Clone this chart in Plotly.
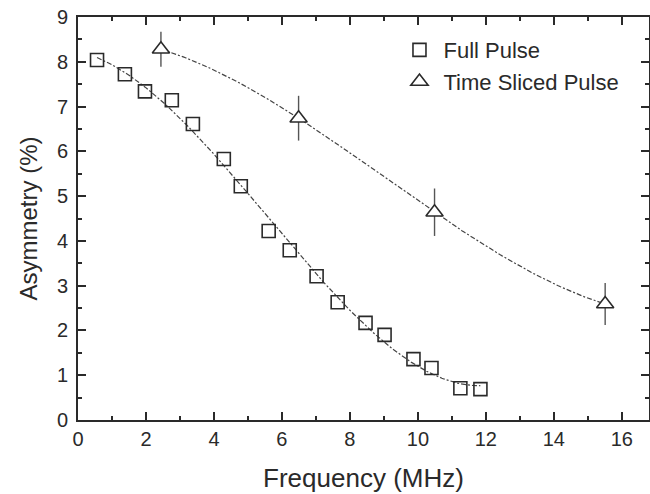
import numpy as np
import plotly.graph_objects as go

# Full pulse data
full_freq = [0.56, 1.38, 1.97, 2.76, 3.38, 4.29, 4.79, 5.61, 6.23, 7.02, 7.64, 8.46, 9.02, 9.87, 10.40, 11.25, 11.84]
full_asym = [8.04, 7.72, 7.34, 7.14, 6.61, 5.83, 5.22, 4.22, 3.79, 3.21, 2.63, 2.17, 1.90, 1.36, 1.16, 0.71, 0.69]

# Time sliced pulse data
ts_freq = [2.44, 6.49, 10.49, 15.51]
ts_asym = [8.28, 6.74, 4.64, 2.59]
ts_err = [0.39, 0.50, 0.53, 0.47]

x_ticks = [0, 2, 4, 6, 8, 10, 12, 14, 16]
y_ticks = [0, 1, 2, 3, 4, 5, 6, 7, 8, 9]

FONT = "Liberation Sans, Arial, sans-serif"
INK = "#2a2a2a"

# Smooth fits derived from the data
pf = np.polyfit(full_freq, full_asym, 3)
xf = np.linspace(min(full_freq), max(full_freq), 200)
yf = np.polyval(pf, xf)

pt = np.polyfit(ts_freq, ts_asym, 3)
xt = np.linspace(min(ts_freq), max(ts_freq), 200)
yt = np.polyval(pt, xt)

fig = go.Figure()

fig.add_trace(go.Scatter(x=xf, y=yf, mode="lines", showlegend=False, hoverinfo="skip",
                         line=dict(color="#444444", width=1.2, dash="5px,2px,2px,2px")))
fig.add_trace(go.Scatter(x=xt, y=yt, mode="lines", showlegend=False, hoverinfo="skip",
                         line=dict(color="#444444", width=1.2, dash="5px,2px,2px,2px")))

fig.add_trace(go.Scatter(x=full_freq, y=full_asym, mode="markers", name="Full Pulse",
                         marker=dict(symbol="square-open", size=13, color=INK,
                                     line=dict(width=1.6, color=INK))))
fig.add_trace(go.Scatter(x=ts_freq, y=ts_asym, mode="markers", name="Time Sliced Pulse",
                         error_y=dict(type="data", array=ts_err, visible=True, width=0,
                                      thickness=1.4, color="#555555"),
                         marker=dict(symbol="triangle-up", size=15, color="white",
                                     line=dict(width=1.6, color=INK))))

axis_common = dict(
    showline=True, linewidth=2, linecolor=INK, mirror="ticks",
    ticks="inside", ticklen=8, tickwidth=2, tickcolor=INK,
    showgrid=False, zeroline=False, automargin=False,
    tickfont=dict(family=FONT, size=20, color=INK),
)

fig.update_xaxes(range=[0, 16.8], tickvals=x_ticks,
                 minor=dict(dtick=1, ticks="inside", ticklen=4, tickwidth=2, tickcolor=INK, showgrid=False),
                 title=dict(text="Frequency (MHz)", font=dict(family=FONT, size=26, color=INK), standoff=20),
                 **axis_common)
fig.update_yaxes(range=[0, 9], tickvals=y_ticks, ticklabelstandoff=4,
                 minor=dict(dtick=0.5, ticks="inside", ticklen=4, tickwidth=2, tickcolor=INK, showgrid=False),
                 title=dict(text="Asymmetry (%)", font=dict(family=FONT, size=24, color=INK), standoff=12),
                 **axis_common)

fig.update_layout(
    width=650, height=494,
    margin=dict(l=78, r=1, t=17, b=74),
    plot_bgcolor="white", paper_bgcolor="white",
    legend=dict(x=0.556, y=0.97, xanchor="left", yanchor="top", itemwidth=38,
                bgcolor="rgba(0,0,0,0)", font=dict(family=FONT, size=22, color=INK),
                tracegroupgap=0, itemsizing="trace"),
)

fig.write_html("out.html", config={"displayModeBar": False},
               post_script="document.body.style.margin='0';document.body.style.overflow='hidden';")
